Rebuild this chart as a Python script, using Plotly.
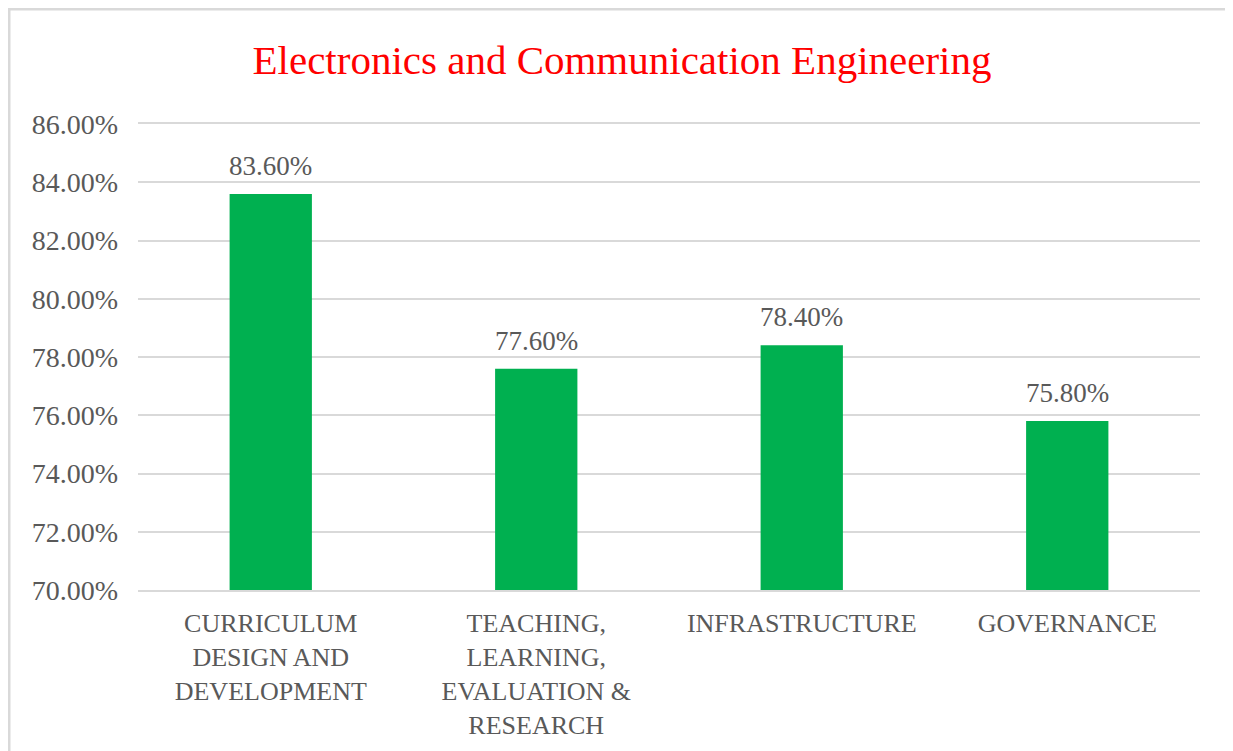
import plotly.graph_objects as go

categories = ["CURRICULUM<br>DESIGN AND<br>DEVELOPMENT",
              "TEACHING,<br>LEARNING,<br>EVALUATION &<br>RESEARCH",
              "INFRASTRUCTURE",
              "GOVERNANCE"]
values = [83.6, 77.6, 78.4, 75.8]
tick_vals = [70, 72, 74, 76, 78, 80, 82, 84, 86]
tick_text = [f"{v:.2f}%" for v in tick_vals]
title_text = "Electronics and Communication Engineering"

FONT = "Liberation Serif, Times New Roman, serif"
GREY = "#595959"

# page body has an 8px margin: figure origin sits at (8, 8) in the window
OFF = 8
W, H = 1233 - OFF, 751 - OFF
L, R = 138 - OFF, 33
T, B = 124 - OFF, 161

pw = W - L - R
ph = H - T - B

fig = go.Figure()
fig.add_trace(go.Bar(
    x=categories, y=values,
    marker=dict(color="#00B050", line=dict(width=0)),
    hoverinfo="x+y",
))

annotations = [dict(x=c, y=v, xref="x", yref="y", text=f"{v:.2f}%",
                    showarrow=False, yanchor="bottom", yshift=11,
                    font=dict(family=FONT, size=27, color=GREY))
               for c, v in zip(categories, values)]

fig.update_layout(
    width=W, height=H,
    margin=dict(l=L, r=R, t=T, b=B),
    paper_bgcolor="white", plot_bgcolor="white",
    bargap=0.69,
    showlegend=False,
    title=dict(text=title_text, x=(622 - OFF) / W, xref="container", xanchor="center",
               y=1 - (60 - OFF) / H, yref="container", yanchor="middle",
               font=dict(family=FONT, size=41, color="#FF0000")),
    xaxis=dict(showgrid=False, showline=True, mirror=True, linecolor="#d9d9d9", linewidth=2,
               tickfont=dict(family=FONT, size=26, color=GREY),
               ticks="", ticklabelstandoff=9),
    yaxis=dict(range=[70, 86], tickvals=tick_vals, ticktext=tick_text,
               showgrid=True, gridcolor="#d9d9d9", gridwidth=2,
               zeroline=False, showline=False, ticks="",
               tickfont=dict(family=FONT, size=28, color=GREY),
               ticklabelstandoff=19),
    annotations=annotations,
    shapes=[dict(type="rect", xref="paper", yref="paper",
                 x0=(9 - OFF - L) / pw, x1=(1228 - OFF - L) / pw,
                 y0=(H - T - 800) / ph, y1=(H - B - (8 - OFF) - 1) / ph,
                 line=dict(color="#d9d9d9", width=3), layer="below")],
)

fig.write_html("out.html")
